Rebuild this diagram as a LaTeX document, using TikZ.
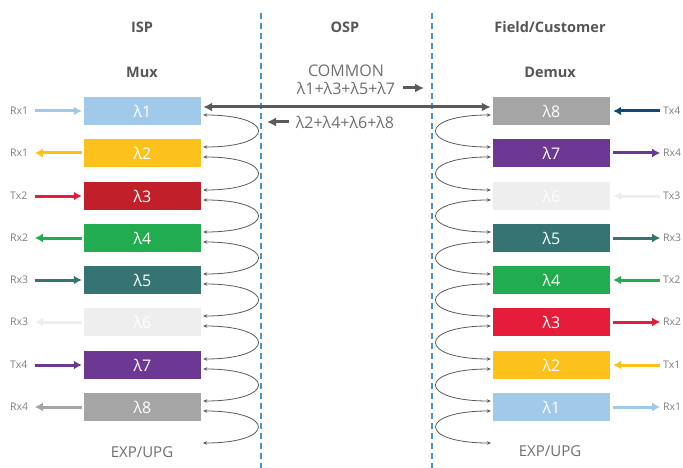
\documentclass[tikz,border=0pt]{standalone}
\usepackage{fontspec}
\setmainfont{Open Sans}
\usetikzlibrary{arrows.meta}
\definecolor{lblgray}{HTML}{7F7F7F}
\definecolor{headgray}{HTML}{565656}
\definecolor{trunkgray}{HTML}{5A5A5A}
\definecolor{sepblue}{HTML}{4A94C4}
\definecolor{wlone}{HTML}{A1C9EA}
\definecolor{wltwo}{HTML}{FCC21B}
\definecolor{wlthreedark}{HTML}{C1202A}
\definecolor{wlthree}{HTML}{E61D3A}
\definecolor{wlfour}{HTML}{21AD4F}
\definecolor{wlfive}{HTML}{367473}
\definecolor{wlsix}{HTML}{EDEEED}
\definecolor{wlseven}{HTML}{6D3894}
\definecolor{wleight}{HTML}{A5A5A5}
\definecolor{txblue}{HTML}{0F4B75}
\tikzset{
  wbox/.style={minimum width=117pt, minimum height=28pt, inner sep=0pt, text=white, font=\fontsize{16}{16}\selectfont},
  head/.style={text=headgray, font=\bfseries\fontsize{14.5}{14.5}\selectfont},
  midtext/.style={text=headgray!85, inner sep=0pt, font=\fontsize{16}{16}\selectfont},
  port/.style={text=lblgray, inner sep=0pt, font=\fontsize{10.5}{10.5}\selectfont},
  side/.style={line width=3pt, >={Latex[length=8pt,width=9pt]}},
  trunk/.style={line width=3pt, trunkgray, >={Latex[length=9pt,width=9pt]}},
  wrapline/.style={line width=0.8pt, trunkgray, >={Stealth[length=4pt,width=3.5pt]}, <->},
  sep/.style={line width=1.5pt, sepblue, dash pattern=on 6pt off 4pt}
}
\begin{document}
\begin{tikzpicture}[x=1pt,y=-1pt]
\useasboundingbox (0,0) rectangle (683,468);
% columns
\draw[sep] (261,13) -- (261,468);
\draw[sep] (432,13) -- (432,468);
\node[head] (isp) at (142,27) {ISP};
\node[head] (osp) at (345,27) {OSP};
\node[head] (field) at (550,27) {Field/Customer};
\node[head] (mux) at (142,72) {Mux};
\node[head] (demux) at (550,72) {Demux};

% mux side
\node[wbox, fill=wlone] (L1) at (142.5,111) {λ1};
\node[wbox, fill=wltwo] (L2) at (142.5,153) {λ2};
\node[wbox, fill=wlthreedark] (L3) at (142.5,196) {λ3};
\node[wbox, fill=wlfour] (L4) at (142.5,238) {λ4};
\node[wbox, fill=wlfive] (L5) at (142.5,280) {λ5};
\node[wbox, fill=wlsix] (L6) at (142.5,322) {λ6};
\node[wbox, fill=wlseven] (L7) at (142.5,365) {λ7};
\node[wbox, fill=wleight] (L8) at (142.5,407) {λ8};
\coordinate (lexp) at (203,443);
\node[midtext, font=\fontsize{15}{15}\selectfont] (lexpupg) at (142,452) {EXP/UPG};

\node[port, anchor=west] (pl1) at (10,111) {Rx1};
\node[port, anchor=west] (pl2) at (10,153) {Rx1};
\node[port, anchor=west] (pl3) at (10,196) {Tx2};
\node[port, anchor=west] (pl4) at (10,238) {Rx2};
\node[port, anchor=west] (pl5) at (10,280) {Rx3};
\node[port, anchor=west] (pl6) at (10,322) {Rx3};
\node[port, anchor=west] (pl7) at (10,365) {Tx4};
\node[port, anchor=west] (pl8) at (10,407) {Rx4};

\draw[side, wlone, ->] ([xshift=-49pt]L1.west) -- ([xshift=-2pt]L1.west);
\draw[side, wltwo, <-] ([xshift=-49pt]L2.west) -- ([xshift=-2pt]L2.west);
\draw[side, wlthree, ->] ([xshift=-49pt]L3.west) -- ([xshift=-2pt]L3.west);
\draw[side, wlfour, <-] ([xshift=-49pt]L4.west) -- ([xshift=-2pt]L4.west);
\draw[side, wlfive, ->] ([xshift=-49pt]L5.west) -- ([xshift=-2pt]L5.west);
\draw[side, wlsix, <-] ([xshift=-49pt]L6.west) -- ([xshift=-2pt]L6.west);
\draw[side, wlseven, ->] ([xshift=-49pt]L7.west) -- ([xshift=-2pt]L7.west);
\draw[side, wleight, <-] ([xshift=-49pt]L8.west) -- ([xshift=-2pt]L8.west);

\draw[wrapline] ([xshift=2pt,yshift=-4pt]L1.east) .. controls +(73,0) and +(73,0) .. ([xshift=2pt,yshift=6pt]L2.east);
\draw[wrapline] ([xshift=2pt,yshift=-4pt]L2.east) .. controls +(73,0) and +(73,0) .. ([xshift=2pt,yshift=6pt]L3.east);
\draw[wrapline] ([xshift=2pt,yshift=-4pt]L3.east) .. controls +(73,0) and +(73,0) .. ([xshift=2pt,yshift=6pt]L4.east);
\draw[wrapline] ([xshift=2pt,yshift=-4pt]L4.east) .. controls +(73,0) and +(73,0) .. ([xshift=2pt,yshift=6pt]L5.east);
\draw[wrapline] ([xshift=2pt,yshift=-4pt]L5.east) .. controls +(73,0) and +(73,0) .. ([xshift=2pt,yshift=6pt]L6.east);
\draw[wrapline] ([xshift=2pt,yshift=-4pt]L6.east) .. controls +(73,0) and +(73,0) .. ([xshift=2pt,yshift=6pt]L7.east);
\draw[wrapline] ([xshift=2pt,yshift=-4pt]L7.east) .. controls +(73,0) and +(73,0) .. ([xshift=2pt,yshift=6pt]L8.east);
\draw[wrapline] ([xshift=2pt,yshift=-4pt]L8.east) .. controls +(73,0) and +(73,0) .. (lexp);

% demux side
\node[wbox, fill=wleight] (R8) at (551.5,111) {λ8};
\node[wbox, fill=wlseven] (R7) at (551.5,153) {λ7};
\node[wbox, fill=wlsix] (R6) at (551.5,196) {λ6};
\node[wbox, fill=wlfive] (R5) at (551.5,238) {λ5};
\node[wbox, fill=wlfour] (R4) at (551.5,280) {λ4};
\node[wbox, fill=wlthree] (R3) at (551.5,322) {λ3};
\node[wbox, fill=wltwo] (R2) at (551.5,365) {λ2};
\node[wbox, fill=wlone] (R1) at (551.5,407) {λ1};
\coordinate (rexp) at (491,443);
\node[midtext, font=\fontsize{15}{15}\selectfont] (rexpupg) at (550,451) {EXP/UPG};

\node[port, anchor=west] (pr8) at (663,111) {Tx4};
\node[port, anchor=west] (pr7) at (663,153) {Rx4};
\node[port, anchor=west] (pr6) at (663,196) {Tx3};
\node[port, anchor=west] (pr5) at (663,238) {Rx3};
\node[port, anchor=west] (pr4) at (663,280) {Tx2};
\node[port, anchor=west] (pr3) at (663,322) {Rx2};
\node[port, anchor=west] (pr2) at (663,365) {Tx1};
\node[port, anchor=west] (pr1) at (663,407) {Rx1};

\draw[side, txblue, <-] ([xshift=3pt]R8.east) -- ([xshift=50pt]R8.east);
\draw[side, wlseven, ->] ([xshift=3pt]R7.east) -- ([xshift=50pt]R7.east);
\draw[side, wlsix, <-] ([xshift=3pt]R6.east) -- ([xshift=50pt]R6.east);
\draw[side, wlfive, ->] ([xshift=3pt]R5.east) -- ([xshift=50pt]R5.east);
\draw[side, wlfour, <-] ([xshift=3pt]R4.east) -- ([xshift=50pt]R4.east);
\draw[side, wlthree, ->] ([xshift=3pt]R3.east) -- ([xshift=50pt]R3.east);
\draw[side, wltwo, <-] ([xshift=3pt]R2.east) -- ([xshift=50pt]R2.east);
\draw[side, wlone, ->] ([xshift=3pt]R1.east) -- ([xshift=50pt]R1.east);

\draw[wrapline] ([xshift=-2pt,yshift=-4pt]R8.west) .. controls +(-73,0) and +(-73,0) .. ([xshift=-2pt,yshift=6pt]R7.west);
\draw[wrapline] ([xshift=-2pt,yshift=-4pt]R7.west) .. controls +(-73,0) and +(-73,0) .. ([xshift=-2pt,yshift=6pt]R6.west);
\draw[wrapline] ([xshift=-2pt,yshift=-4pt]R6.west) .. controls +(-73,0) and +(-73,0) .. ([xshift=-2pt,yshift=6pt]R5.west);
\draw[wrapline] ([xshift=-2pt,yshift=-4pt]R5.west) .. controls +(-73,0) and +(-73,0) .. ([xshift=-2pt,yshift=6pt]R4.west);
\draw[wrapline] ([xshift=-2pt,yshift=-4pt]R4.west) .. controls +(-73,0) and +(-73,0) .. ([xshift=-2pt,yshift=6pt]R3.west);
\draw[wrapline] ([xshift=-2pt,yshift=-4pt]R3.west) .. controls +(-73,0) and +(-73,0) .. ([xshift=-2pt,yshift=6pt]R2.west);
\draw[wrapline] ([xshift=-2pt,yshift=-4pt]R2.west) .. controls +(-73,0) and +(-73,0) .. ([xshift=-2pt,yshift=6pt]R1.west);
\draw[wrapline] ([xshift=-2pt,yshift=-4pt]R1.west) .. controls +(-73,0) and +(-73,0) .. (rexp);

% common fibre
\node[midtext] (common) at (346,71) {COMMON};
\node[midtext] (odd) at (346,88) {λ1+λ3+λ5+λ7};
\node[midtext] (even) at (345,122) {λ2+λ4+λ6+λ8};
\draw[trunk, <->] ([xshift=2pt,yshift=4pt]L1.east) -- ([xshift=-2pt,yshift=4pt]R8.west);
\draw[trunk, ->] ([xshift=8pt]odd.east) -- (424,88);
\draw[trunk, ->] ([xshift=-7pt]even.west) -- (267,122);
\end{tikzpicture}
\end{document}
